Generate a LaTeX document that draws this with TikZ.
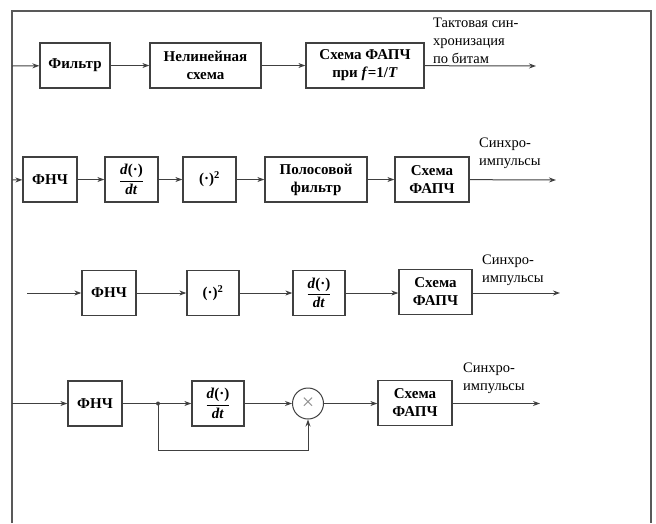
\documentclass[tikz,border=0pt]{standalone}
\usepackage{fontspec}
\setmainfont{Liberation Serif}
\usetikzlibrary{arrows.meta, positioning}

\begin{document}
\begin{tikzpicture}[x=1pt, y=-1pt,
    block/.style={rectangle, draw=black!75, line width=1.3pt, minimum height=45pt, inner sep=0pt, align=center, font=\bfseries\fontsize{15}{18}\selectfont},
    mixer/.style={circle, draw=black!75, line width=1pt, minimum size=31pt, inner sep=0pt, font=\fontsize{22}{22}\selectfont, text=black!45},
    arrow/.style={-{Stealth[length=7pt, width=5pt]}, line width=1pt, draw=black!75},
    wire/.style={line width=1pt, draw=black!75},
    note/.style={anchor=north west, inner sep=0pt, align=left, font=\fontsize{14.5}{18}\selectfont},
    frame/.style={line width=1.4pt, draw=black!65}
]
\useasboundingbox (0,0) rectangle (656,523);
\draw[frame] (12,523) -- (12,11) -- (651,11) -- (651,523);

\node[block, minimum width=70pt] (filt) at (75,65.5) {Фильтр};
\node[block, minimum width=111pt] (nonlin) at (205.5,65.5) {Нелинейная\\схема};
\node[block, minimum width=118pt] (pll1) at (365,65.5) {Схема ФАПЧ\\при \textit{f}=1/\textit{T}};
\coordinate (in1) at (12,66);
\coordinate (out1) at (536,66);
\node[note] (sync1) at (433,18) {Тактовая син-\\хронизация\\по битам};
\draw[arrow] (in1) -- (filt);
\draw[arrow] (filt) -- (nonlin);
\draw[arrow] (nonlin) -- (pll1);
\draw[arrow] (pll1) -- (out1);

\node[block, minimum width=54pt] (lpf2) at (50,179.5) {ФНЧ};
\node[block, minimum width=53pt] (diff2) at (131.5,179.5) {${\displaystyle\frac{\textbf{\textit{d}}\textbf{(·)}}{\textbf{\textit{dt}}}}$};
\node[block, minimum width=53pt] (sq2) at (209.5,179.5) {(·)\textsuperscript{2}};
\node[block, minimum width=102pt] (bpf) at (316,179.5) {Полосовой\\фильтр};
\node[block, minimum width=74pt] (pll2) at (432,179.5) {Схема\\ФАПЧ};
\coordinate (in2) at (12,180);
\coordinate (out2) at (556,180);
\node[note] (sync2) at (479,138) {Синхро-\\импульсы};
\draw[arrow] (in2) -- (lpf2);
\draw[arrow] (lpf2) -- (diff2);
\draw[arrow] (diff2) -- (sq2);
\draw[arrow] (sq2) -- (bpf);
\draw[arrow] (bpf) -- (pll2);
\draw[arrow] (pll2) -- (out2);

\node[block, minimum width=54pt] (lpf3) at (109,293) {ФНЧ};
\node[block, minimum width=52pt] (sq3) at (213,293) {(·)\textsuperscript{2}};
\node[block, minimum width=52pt] (diff3) at (319,293) {${\displaystyle\frac{\textbf{\textit{d}}\textbf{(·)}}{\textbf{\textit{dt}}}}$};
\node[block, minimum width=73pt] (pll3) at (435.5,292) {Схема\\ФАПЧ};
\coordinate (in3) at (27,293);
\coordinate (out3) at (560,293);
\node[note] (sync3) at (482,255) {Синхро-\\импульсы};
\draw[arrow] (in3) -- (lpf3);
\draw[arrow] (lpf3) -- (sq3);
\draw[arrow] (sq3) -- (diff3);
\draw[arrow] (diff3) -- (pll3.west |- diff3);
\draw[arrow] (pll3.east |- out3) -- (out3);

\node[block, minimum width=54pt] (lpf4) at (95,403.5) {ФНЧ};
\coordinate (split) at (158,403.5);
\node[block, minimum width=52pt] (diff4) at (218,403.5) {${\displaystyle\frac{\textbf{\textit{d}}\textbf{(·)}}{\textbf{\textit{dt}}}}$};
\node[mixer] (mult) at (308,403.5) {×};
\node[block, minimum width=74pt] (pll4) at (415,403) {Схема\\ФАПЧ};
\coordinate (in4) at (12,403.5);
\coordinate (out4) at (540,403.5);
\node[note] (sync4) at (463,363) {Синхро-\\импульсы};
\draw[arrow] (in4) -- (lpf4);
\draw[wire] (lpf4) -- (split);
\fill[black!75] (split) circle (2pt);
\draw[arrow] (split) -- (diff4);
\draw[arrow] (diff4) -- (mult);
\draw[arrow] (split) -- ++(0,46.5) -| (mult.south);
\draw[arrow] (mult) -- (pll4.west |- mult);
\draw[arrow] (pll4.east |- out4) -- (out4);
\end{tikzpicture}
\end{document}
